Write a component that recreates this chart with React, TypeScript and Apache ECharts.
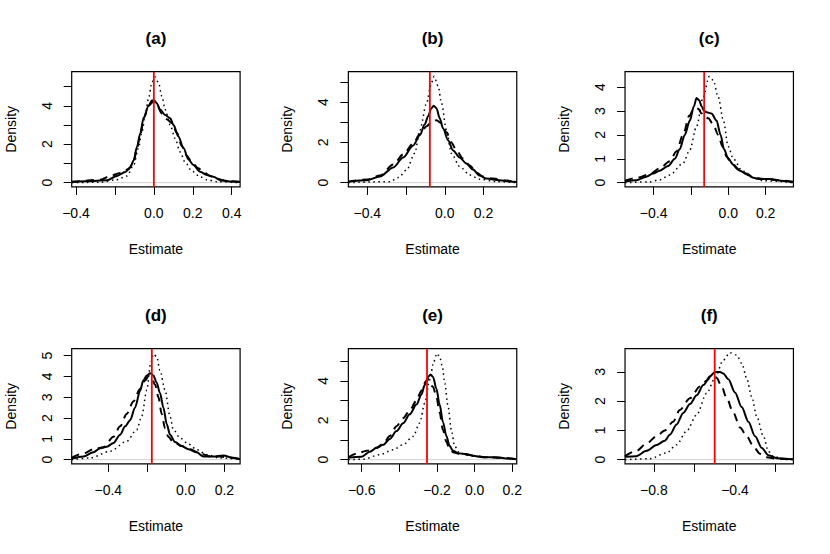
import React, { useEffect, useRef } from "react";
import * as echarts from "echarts";

// ---------- data ----------
const panelLabels = ["(a)", "(b)", "(c)", "(d)", "(e)", "(f)"];
const trueValues = [0, -0.077, -0.129, -0.175, -0.253, -0.5];

const aSolid = [[-0.421,0.05],[-0.344,0.07],[-0.241,0.12],[-0.19,0.35],[-0.147,0.55],[-0.121,0.8],[-0.104,1.15],[-0.087,1.85],[-0.07,2.55],[-0.053,3.35],[-0.027,4.0],[-0.01,4.27],[0.002,4.28],[0.015,4.13],[0.032,3.8],[0.058,3.52],[0.084,3.35],[0.101,3.0],[0.126,2.4],[0.152,1.8],[0.178,1.2],[0.203,0.92],[0.238,0.57],[0.272,0.4],[0.306,0.3],[0.34,0.14],[0.391,0.06],[0.443,0.04]];
const aDashed = [[-0.421,0.03],[-0.275,0.15],[-0.224,0.35],[-0.173,0.5],[-0.13,0.7],[-0.104,1.1],[-0.087,1.75],[-0.07,2.5],[-0.05,3.4],[-0.027,4.0],[-0.005,4.2],[0.015,4.05],[0.041,3.6],[0.067,3.3],[0.092,3.1],[0.118,2.6],[0.144,1.9],[0.169,1.4],[0.195,1.05],[0.229,0.75],[0.255,0.55],[0.289,0.35],[0.323,0.2],[0.374,0.08],[0.443,0.03]];
const aDotted = [[-0.421,0],[-0.275,0.02],[-0.19,0.15],[-0.138,0.35],[-0.104,0.9],[-0.079,1.8],[-0.062,2.6],[-0.044,3.5],[-0.027,4.4],[-0.01,5.2],[0.007,5.5],[0.024,5.2],[0.041,4.5],[0.058,3.8],[0.084,3.0],[0.109,2.3],[0.135,1.6],[0.161,1.05],[0.195,0.6],[0.238,0.3],[0.272,0.15],[0.323,0.05],[0.443,0]];

const bSolid = [[-0.498,0.05],[-0.403,0.12],[-0.335,0.3],[-0.266,0.75],[-0.215,1.25],[-0.163,1.85],[-0.129,2.35],[-0.103,2.9],[-0.086,3.3],[-0.069,3.7],[-0.057,3.82],[-0.043,3.7],[-0.026,3.2],[-0.009,2.7],[0.017,2.1],[0.043,1.6],[0.077,1.25],[0.112,0.95],[0.146,0.65],[0.18,0.35],[0.215,0.2],[0.283,0.12],[0.335,0.06],[0.373,0.03]];
const bDashed = [[-0.498,0.05],[-0.403,0.15],[-0.335,0.35],[-0.266,0.9],[-0.215,1.4],[-0.163,1.95],[-0.129,2.4],[-0.094,2.8],[-0.069,3.0],[-0.043,3.1],[-0.017,2.95],[0.009,2.5],[0.034,2.0],[0.06,1.6],[0.094,1.2],[0.129,0.85],[0.163,0.5],[0.197,0.3],[0.249,0.2],[0.318,0.1],[0.373,0.04]];
const bDotted = [[-0.498,0],[-0.283,0.05],[-0.24,0.25],[-0.197,0.63],[-0.155,1.46],[-0.129,2.6],[-0.094,3.95],[-0.069,4.95],[-0.055,5.28],[-0.034,4.8],[-0.017,3.95],[0.009,2.6],[0.034,1.46],[0.077,0.8],[0.129,0.38],[0.18,0.17],[0.266,0.05],[0.373,0]];

const cSolid = [[-0.553,0.05],[-0.492,0.1],[-0.439,0.25],[-0.403,0.38],[-0.367,0.5],[-0.322,0.7],[-0.286,1.0],[-0.26,1.4],[-0.233,2.0],[-0.206,2.6],[-0.184,3.2],[-0.17,3.55],[-0.156,3.45],[-0.143,3.2],[-0.129,3.0],[-0.116,2.95],[-0.09,2.9],[-0.063,2.6],[-0.041,2.0],[-0.023,1.4],[0,1.0],[0.027,0.75],[0.063,0.5],[0.098,0.35],[0.134,0.2],[0.17,0.15],[0.224,0.15],[0.295,0.07],[0.349,0.02]];
const cDashed = [[-0.553,0.08],[-0.492,0.2],[-0.421,0.35],[-0.367,0.6],[-0.313,0.9],[-0.278,1.3],[-0.242,2.0],[-0.209,2.8],[-0.184,3.1],[-0.161,3.1],[-0.143,2.9],[-0.129,2.75],[-0.107,2.7],[-0.081,2.45],[-0.054,2.0],[-0.03,1.5],[-0.009,1.1],[0.018,0.8],[0.054,0.55],[0.098,0.38],[0.134,0.22],[0.188,0.15],[0.26,0.1],[0.349,0.03]];
const cDotted = [[-0.553,0],[-0.421,0.03],[-0.367,0.12],[-0.313,0.32],[-0.242,0.81],[-0.206,1.37],[-0.17,2.35],[-0.134,3.6],[-0.102,4.45],[-0.081,4.3],[-0.054,3.6],[-0.027,2.63],[0,1.51],[0.027,1.0],[0.072,0.53],[0.116,0.25],[0.188,0.08],[0.349,0]];

const dSolid = [[-0.589,0.05],[-0.528,0.15],[-0.477,0.35],[-0.442,0.55],[-0.408,0.62],[-0.373,0.8],[-0.339,1.2],[-0.313,1.6],[-0.287,1.9],[-0.262,2.5],[-0.236,3.3],[-0.219,3.8],[-0.201,4.05],[-0.184,4.15],[-0.167,4.05],[-0.15,3.7],[-0.133,3.2],[-0.115,2.5],[-0.098,1.7],[-0.081,1.2],[-0.055,0.85],[-0.021,0.65],[0.014,0.5],[0.057,0.35],[0.091,0.15],[0.143,0.15],[0.194,0.2],[0.246,0.08],[0.281,0.02]];
const dDashed = [[-0.589,0.1],[-0.528,0.3],[-0.477,0.5],[-0.425,0.6],[-0.373,1.1],[-0.339,1.6],[-0.305,2.2],[-0.27,2.8],[-0.236,3.4],[-0.21,3.8],[-0.193,4.0],[-0.176,3.9],[-0.158,3.6],[-0.141,3.0],[-0.124,2.2],[-0.107,1.5],[-0.09,1.1],[-0.064,0.85],[-0.021,0.65],[0.022,0.5],[0.074,0.3],[0.126,0.15],[0.177,0.15],[0.229,0.1],[0.281,0.03]];
const dDotted = [[-0.589,0],[-0.494,0.08],[-0.391,0.4],[-0.305,0.88],[-0.253,1.44],[-0.227,2.08],[-0.201,3.35],[-0.181,4.63],[-0.167,5.08],[-0.15,4.95],[-0.133,4.3],[-0.107,3.35],[-0.081,2.08],[-0.064,1.44],[-0.029,1.04],[0.014,0.75],[0.057,0.48],[0.108,0.24],[0.177,0.08],[0.281,0.01]];

const eSolid = [[-0.671,0.1],[-0.601,0.15],[-0.557,0.4],[-0.521,0.6],[-0.486,0.75],[-0.451,1.05],[-0.415,1.45],[-0.38,1.85],[-0.345,2.3],[-0.309,2.8],[-0.283,3.3],[-0.265,3.8],[-0.247,4.2],[-0.235,4.33],[-0.221,4.2],[-0.203,3.6],[-0.186,2.8],[-0.168,1.9],[-0.15,1.2],[-0.133,0.7],[-0.115,0.45],[-0.088,0.33],[-0.044,0.28],[-0.009,0.2],[0.044,0.12],[0.115,0.12],[0.168,0.06],[0.224,0.02]];
const eDashed = [[-0.671,0.12],[-0.627,0.3],[-0.574,0.45],[-0.521,0.6],[-0.486,0.8],[-0.451,1.2],[-0.415,1.7],[-0.38,2.1],[-0.345,2.5],[-0.309,3.0],[-0.283,3.5],[-0.26,3.97],[-0.247,4.1],[-0.235,3.8],[-0.221,3.7],[-0.203,3.2],[-0.186,2.4],[-0.168,1.5],[-0.15,0.9],[-0.133,0.55],[-0.115,0.38],[-0.08,0.3],[-0.035,0.25],[0.009,0.18],[0.062,0.12],[0.133,0.1],[0.224,0.02]];
const eDotted = [[-0.671,0],[-0.592,0.02],[-0.504,0.25],[-0.433,0.5],[-0.38,0.76],[-0.327,1.18],[-0.292,1.86],[-0.265,2.87],[-0.239,4.05],[-0.217,4.98],[-0.2,5.4],[-0.186,5.23],[-0.171,4.73],[-0.159,3.88],[-0.141,2.7],[-0.124,1.52],[-0.106,0.68],[-0.08,0.34],[-0.035,0.22],[0.027,0.15],[0.115,0.1],[0.224,0.02]];

const fSolid = [[-0.942,0.1],[-0.886,0.12],[-0.836,0.3],[-0.787,0.5],[-0.746,0.65],[-0.721,0.85],[-0.688,1.2],[-0.655,1.6],[-0.622,1.9],[-0.589,2.2],[-0.556,2.55],[-0.523,2.85],[-0.499,3.0],[-0.474,3.0],[-0.458,2.95],[-0.433,2.75],[-0.4,2.3],[-0.367,1.8],[-0.334,1.3],[-0.301,0.8],[-0.268,0.4],[-0.235,0.15],[-0.194,0.05],[-0.112,0.01]];
const fDashed = [[-0.942,0.12],[-0.886,0.3],[-0.836,0.55],[-0.787,0.8],[-0.746,1.0],[-0.705,1.3],[-0.672,1.7],[-0.622,2.1],[-0.573,2.5],[-0.54,2.7],[-0.515,2.88],[-0.491,2.8],[-0.466,2.5],[-0.441,2.1],[-0.408,1.6],[-0.375,1.1],[-0.342,0.8],[-0.309,0.45],[-0.277,0.2],[-0.244,0.08],[-0.194,0.03],[-0.112,0]];
const fDotted = [[-0.942,0],[-0.82,0.03],[-0.737,0.23],[-0.688,0.51],[-0.639,0.97],[-0.589,1.53],[-0.54,2.27],[-0.499,2.78],[-0.458,3.4],[-0.425,3.66],[-0.392,3.58],[-0.367,3.3],[-0.342,2.78],[-0.318,2.16],[-0.293,1.48],[-0.26,0.8],[-0.235,0.28],[-0.211,0.11],[-0.161,0.02],[-0.112,0]];

// axis extents (data units)
const xRanges = [[-0.422, 0.443], [-0.498, 0.372], [-0.553, 0.349], [-0.589, 0.281], [-0.671, 0.224], [-0.942, -0.112]];
const yRanges = [[-0.222, 5.772], [-0.212, 5.512], [-0.179, 4.649], [-0.205, 5.335], [-0.217, 5.637], [-0.146, 3.796]];

// tick positions and labels
const xTickValues = [
  [-0.4, -0.2, 0.0, 0.2, 0.4],
  [-0.4, -0.2, 0.0, 0.2],
  [-0.4, -0.2, 0.0, 0.2],
  [-0.4, -0.2, 0.0, 0.2],
  [-0.6, -0.4, -0.2, 0.0, 0.2],
  [-0.8, -0.6, -0.4, -0.2],
];
const xLabelValues = [
  [-0.4, 0.0, 0.2, 0.4],
  [-0.4, 0.0, 0.2],
  [-0.4, 0.0, 0.2],
  [-0.4, 0.0, 0.2],
  [-0.6, -0.2, 0.0, 0.2],
  [-0.8, -0.4],
];
const yTickValues = [
  [0, 1, 2, 3, 4, 5],
  [0, 1, 2, 3, 4, 5],
  [0, 1, 2, 3, 4],
  [0, 1, 2, 3, 4, 5],
  [0, 1, 2, 3, 4, 5],
  [0, 1, 2, 3],
];
const yLabelValues = [
  [0, 2, 4],
  [0, 2, 4],
  [0, 1, 2, 3, 4],
  [0, 1, 2, 3, 4, 5],
  [0, 2, 4],
  [0, 1, 2, 3],
];

const solidCurves = [aSolid, bSolid, cSolid, dSolid, eSolid, fSolid];
const dashedCurves = [aDashed, bDashed, cDashed, dDashed, eDashed, fDashed];
const dottedCurves = [aDotted, bDotted, cDotted, dDotted, eDotted, fDotted];

// ---------- layout ----------
const W = 830;
const H = 554;
const CELL_W = W / 3;
const CELL_H = H / 2;
const BOX_LEFT = 71.7;
const BOX_TOP = 71.7;
const BOX_W = 168.4;
const BOX_H = 115.2;
const FONT = "Liberation Sans, Arial, Helvetica, sans-serif";

const fmtX = (v: number) => {
  const s = Math.abs(v) < 1e-9 ? "0.0" : v.toFixed(1);
  return s.replace("-", "\u2212");
};

function buildOption() {
  const grid: any[] = [];
  const xAxis: any[] = [];
  const yAxis: any[] = [];
  const series: any[] = [];
  const graphic: any[] = [];

  for (let i = 0; i < 6; i++) {
    const col = i % 3;
    const row = Math.floor(i / 3);
    const left = BOX_LEFT + col * CELL_W;
    const top = BOX_TOP + row * CELL_H;
    grid.push({
      left,
      top,
      width: BOX_W,
      height: BOX_H,
      show: true,
      borderColor: "#000",
      borderWidth: 1.2,
      backgroundColor: "transparent",
      containLabel: false,
    });
    xAxis.push({
      gridIndex: i,
      type: "value",
      position: "bottom",
      min: xRanges[i][0],
      max: xRanges[i][1],
      axisLine: { show: false, onZero: false },
      splitLine: { show: false },
      axisTick: {
        show: true,
        length: 8,
        customValues: xTickValues[i],
        lineStyle: { color: "#000", width: 1 },
      },
      axisLabel: {
        customValues: xLabelValues[i],
        formatter: fmtX,
        fontSize: 14,
        color: "#000",
        fontFamily: FONT,
        margin: 19,
      },
      name: "Estimate",
      nameLocation: "middle",
      nameGap: 55,
      nameTextStyle: { fontSize: 14, color: "#000", fontFamily: FONT },
    });
    yAxis.push({
      gridIndex: i,
      type: "value",
      position: "left",
      min: yRanges[i][0],
      max: yRanges[i][1],
      axisLine: { show: false, onZero: false },
      splitLine: { show: false },
      axisTick: {
        show: true,
        length: 8,
        customValues: yTickValues[i],
        lineStyle: { color: "#000", width: 1 },
      },
      axisLabel: {
        customValues: yLabelValues[i],
        formatter: (v: number) => String(Math.round(v)),
        rotate: 90,
        fontSize: 14,
        color: "#000",
        fontFamily: FONT,
        margin: 18,
      },
      name: "Density",
      nameLocation: "middle",
      nameGap: 54,
      nameRotate: 90,
      nameTextStyle: { fontSize: 14, color: "#000", fontFamily: FONT },
    });

    // zero line (gray)
    series.push({
      type: "line",
      xAxisIndex: i,
      yAxisIndex: i,
      data: [[xRanges[i][0], 0], [xRanges[i][1], 0]],
      symbol: "none",
      silent: true,
      lineStyle: { color: "#d0d0d0", width: 1 },
      z: 1,
    });
    series.push({
      type: "line",
      name: "solid",
      xAxisIndex: i,
      yAxisIndex: i,
      data: solidCurves[i],
      symbol: "none",
      smooth: 0.3,
      smoothMonotone: "x",
      lineStyle: { color: "#000", width: 2 },
      z: 3,
    });
    series.push({
      type: "line",
      name: "dashed",
      xAxisIndex: i,
      yAxisIndex: i,
      data: dashedCurves[i],
      symbol: "none",
      smooth: 0.3,
      smoothMonotone: "x",
      lineStyle: { color: "#000", width: 2, type: [8, 6] },
      z: 3,
    });
    series.push({
      type: "line",
      name: "dotted",
      xAxisIndex: i,
      yAxisIndex: i,
      data: dottedCurves[i],
      symbol: "none",
      smooth: 0.3,
      smoothMonotone: "x",
      lineStyle: { color: "#000", width: 1.5, type: [1.5, 3.5] },
      z: 3,
    });
    // true value (red vertical)
    series.push({
      type: "line",
      name: "true",
      xAxisIndex: i,
      yAxisIndex: i,
      data: [[trueValues[i], yRanges[i][0]], [trueValues[i], yRanges[i][1]]],
      symbol: "none",
      lineStyle: { color: "#ff0000", width: 1.8 },
      z: 4,
    });

    graphic.push({
      type: "text",
      x: left + BOX_W / 2,
      y: 38 + row * CELL_H,
      style: {
        text: panelLabels[i],
        font: `bold 17px ${FONT}`,
        fill: "#000",
        textAlign: "center",
        textVerticalAlign: "middle",
      },
    });
  }

  return {
    animation: false,
    backgroundColor: "#fff",
    grid,
    xAxis,
    yAxis,
    series,
    graphic,
  };
}

export default function App() {
  const ref = useRef<HTMLDivElement | null>(null);
  useEffect(() => {
    if (!ref.current) return;
    const chart = echarts.init(ref.current, undefined, { renderer: "svg" });
    chart.setOption(buildOption() as any);
    return () => chart.dispose();
  }, []);
  return (
    <div
      ref={ref}
      style={{ position: "fixed", left: 0, top: 0, width: W, height: H, background: "#fff" }}
    />
  );
}
